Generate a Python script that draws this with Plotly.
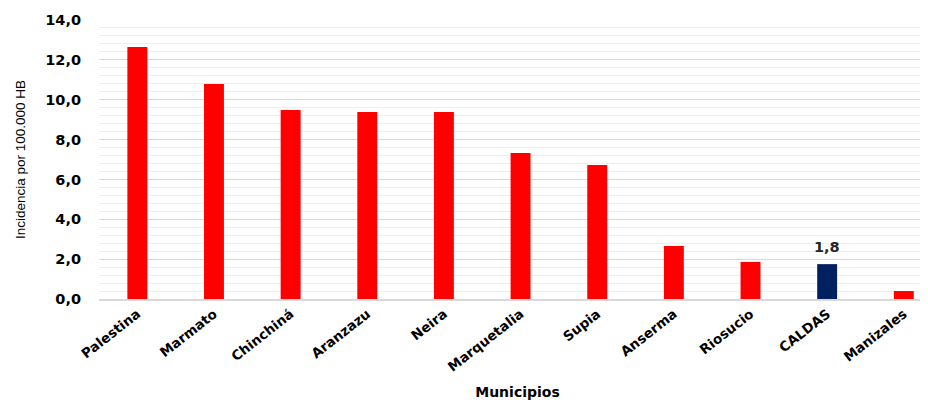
import plotly.graph_objects as go

municipios = ["Palestina", "Marmato", "Chinchiná", "Aranzazu", "Neira", "Marquetalia",
              "Supia", "Anserma", "Riosucio", "CALDAS", "Manizales"]
incidencia = [12.64, 10.79, 9.48, 9.38, 9.38, 7.33, 6.72, 2.66, 1.86, 1.75, 0.40]
colores = ["#ff0000"] * 9 + ["#002060"] + ["#ff0000"]
etiqueta_idx = 9
etiqueta_txt = "1,8"
y_ticks = [0, 2, 4, 6, 8, 10, 12, 14]
y_tick_labels = ["0,0", "2,0", "4,0", "6,0", "8,0", "10,0", "12,0", "14,0"]

fig = go.Figure(go.Bar(
    x=municipios, y=incidencia, marker=dict(color=colores, line=dict(width=0)),
    width=0.26,
))

fig.add_annotation(
    x=municipios[etiqueta_idx], y=incidencia[etiqueta_idx], text=etiqueta_txt,
    showarrow=False, yanchor="bottom", yshift=7,
    font=dict(family="DejaVu Sans", size=14.5, color="#262626", weight="bold"),
)

fig.update_layout(
    width=928, height=400,
    margin=dict(l=91, r=0, t=12, b=109, autoexpand=False),
    paper_bgcolor="white", plot_bgcolor="white",
    showlegend=False,
    xaxis=dict(
        range=[-0.5, 10.42], tickangle=-38, automargin=False,
        tickfont=dict(family="DejaVu Sans", size=13.5, color="#000000", weight="bold"),
        showgrid=False, showline=True, linecolor="#d9d9d9", linewidth=2,
        ticks="", title=dict(text="Municipios", standoff=14,
                             font=dict(family="DejaVu Sans", size=14, color="#000000", weight="bold")),
    ),
    yaxis=dict(
        range=[0, 14], tickvals=y_ticks, ticktext=y_tick_labels, automargin=False,
        tickfont=dict(family="DejaVu Sans", size=14.5, color="#000000", weight="bold"),
        showgrid=True, gridcolor="#d9d9d9", gridwidth=1, zeroline=False,
        ticks="", ticklabelstandoff=17,
        minor=dict(dtick=0.4, showgrid=True, gridcolor="#eeeeee", gridwidth=1),
        title=dict(text="Incidencia por 100.000 HB", standoff=16,
                   font=dict(family="Liberation Sans Narrow, Liberation Sans", size=13.5, color="#000000")),
    ),
)

fig.write_html("out.html")
